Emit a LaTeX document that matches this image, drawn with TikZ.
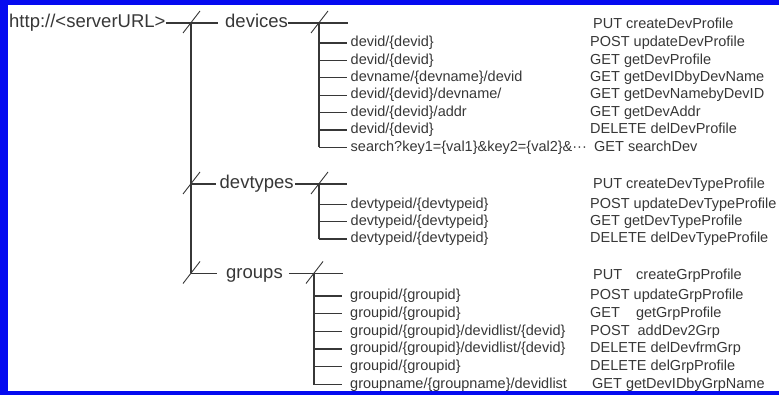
\documentclass[tikz,border=0pt]{standalone}
\usepackage{fontspec}
\setmainfont{Liberation Sans}
\definecolor{frameblue}{RGB}{5,10,240}
\definecolor{ink}{RGB}{55,55,55}
\tikzset{
  wire/.style={draw=ink, line width=1.3pt},
  slash/.style={draw=ink, line width=0.9pt},
  toplabel/.style={inner sep=0pt, anchor=west, text=ink,
    font=\fontsize{18.5}{20}\selectfont, text height=13.5pt, text depth=3.9pt},
  leaf/.style={inner sep=0pt, anchor=west, text=ink,
    font=\fontsize{14.5}{16}\selectfont, text height=10.6pt, text depth=3pt},
}
% short diagonal stroke across a junction
\newcommand{\junctick}[1]{\draw[slash] ([shift={(-8,10)}]#1) -- ([shift={(9,-12)}]#1);}
\begin{document}
\begin{tikzpicture}[x=1pt,y=-1pt]
\useasboundingbox (0,0) rectangle (779,395);
% frame
\fill[frameblue] (0,0) rectangle (779,5);
\fill[frameblue] (0,0) rectangle (7.5,395);
\fill[frameblue] (0,390.7) rectangle (779,395);

% root and trunk
\node[toplabel] (root) at (9,23) {http://<serverURL>};
\coordinate (j0) at (191,23);
\coordinate (j1) at (191,184);
\coordinate (j2) at (191,273.5);
\draw[wire] (root.east) -- (j0) -- (j2);
\junctick{j0}\junctick{j1}\junctick{j2}

% ---------- devices ----------
\node[toplabel] (devices) at (225,23) {devices};
\coordinate (d0) at (319,23);
\coordinate (dend) at (348,23);
\draw[wire, shorten >=7pt] (j0) -- (devices.west);
\draw[wire] (devices.east) -- (d0) -- (dend);
\junctick{d0}
\foreach \i/\y/\t in {1/43/{devid/\{devid\}},
                      2/60.4/{devid/\{devid\}},
                      3/77.8/{devname/\{devname\}/devid},
                      4/95.2/{devid/\{devid\}/devname/},
                      5/112.6/{devid/\{devid\}/addr},
                      6/130/{devid/\{devid\}},
                      7/147.4/{search?key1=\{val1\}\&key2=\{val2\}\&···}}{
  \node[leaf] (dl\i) at (350.5,\y) {\t};
  \draw[wire, shorten >=3.5pt] (d0 |- dl\i.west) -- (dl\i.west);
}
\draw[wire] (d0) -- (d0 |- dl7.west);
\node[leaf] (dm0) at (593,25) {PUT createDevProfile};
\node[leaf] (dm1) at (590,43) {POST updateDevProfile};
\node[leaf] (dm2) at (590,60.4) {GET getDevProfile};
\node[leaf] (dm3) at (590,77.8) {GET getDevIDbyDevName};
\node[leaf] (dm4) at (590,95.2) {GET getDevNamebyDevID};
\node[leaf] (dm5) at (590,112.6) {GET getDevAddr};
\node[leaf] (dm6) at (590,130) {DELETE delDevProfile};
\node[leaf] (dm7) at (594,147.4) {GET searchDev};

% ---------- devtypes ----------
\node[toplabel] (devtypes) at (219.5,184) {devtypes};
\coordinate (t0) at (319,184);
\coordinate (tend) at (347,184);
\draw[wire, shorten >=4pt] (j1) -- (devtypes.west);
\draw[wire, shorten <=1.5pt] (devtypes.east) -- (t0) -- (tend);
\junctick{t0}
\foreach \i/\y in {1/204.5, 2/221.5, 3/239}{
  \node[leaf] (tl\i) at (350.5,\y) {devtypeid/\{devtypeid\}};
  \draw[wire, shorten >=3.5pt] (t0 |- tl\i.west) -- (tl\i.west);
}
\draw[wire] (t0) -- (t0 |- tl3.west);
\node[leaf] (tm0) at (593,184.5) {PUT createDevTypeProfile};
\node[leaf] (tm1) at (590,204.5) {POST updateDevTypeProfile};
\node[leaf] (tm2) at (590,221.5) {GET getDevTypeProfile};
\node[leaf] (tm3) at (590,239) {DELETE delDevTypeProfile};

% ---------- groups ----------
\node[toplabel] (groups) at (226,273.5) {groups};
\coordinate (g0) at (314,273.5);
\coordinate (gend) at (343,273.5);
\draw[wire, shorten >=9pt] (j2) -- (groups.west);
\draw[wire, shorten <=6pt] (groups.east) -- (g0) -- (gend);
\junctick{g0}
\foreach \i/\y/\t in {1/296/{groupid/\{groupid\}},
                      2/313.7/{groupid/\{groupid\}},
                      3/331.4/{groupid/\{groupid\}/devidlist/\{devid\}},
                      4/349.1/{groupid/\{groupid\}/devidlist/\{devid\}},
                      5/366.8/{groupid/\{groupid\}},
                      6/384.5/{groupname/\{groupname\}/devidlist}}{
  \node[leaf] (gl\i) at (350,\y) {\t};
  \draw[wire, shorten >=8pt] (g0 |- gl\i.west) -- (gl\i.west);
}
\draw[wire] (g0) -- (g0 |- gl6.west);
\node[leaf] (gm0) at (593,276) {PUT\hspace{14pt}createGrpProfile};
\node[leaf] (gm1) at (590,296) {POST updateGrpProfile};
\node[leaf] (gm2) at (590,313.7) {GET\hspace{16pt}getGrpProfile};
\node[leaf] (gm3) at (590,331.4) {POST\hspace{8pt}addDev2Grp};
\node[leaf] (gm4) at (590,349.1) {DELETE delDevfrmGrp};
\node[leaf] (gm5) at (590,366.8) {DELETE delGrpProfile};
\node[leaf] (gm6) at (592,384.5) {GET getDevIDbyGrpName};
\end{tikzpicture}
\end{document}
